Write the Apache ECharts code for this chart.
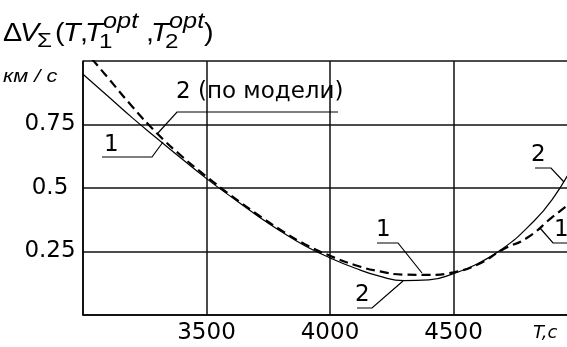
<!DOCTYPE html>
<html><head><meta charset="utf-8">
<script src="https://cdn.jsdelivr.net/npm/echarts@6/dist/echarts.min.js"></script>
<style>html,body{margin:0;padding:0;background:#fff}#c{width:567px;height:347px}</style>
</head><body><div id="c"></div>
<script>
// Data
const temps = [3000,3100,3200,3300,3400,3500,3600,3700,3800,3900,4000,4100,4200,4300,4400,4500,4600,4700,4800,4900,5000];
const curveSolid = [0.948,0.862,0.776,0.695,0.615,0.537,0.465,0.395,0.330,0.272,0.225,0.185,0.153,0.135,0.138,0.163,0.203,0.262,0.345,0.455,0.62];
const curveDashed = [1.05,0.935,0.82,0.715,0.625,0.545,0.47,0.40,0.335,0.278,0.233,0.197,0.172,0.159,0.158,0.168,0.20,0.258,0.305,0.385,0.46];
const xTickLabels = ['3500','4000','4500'];
const yTickLabels = ['0.25','0.5','0.75'];

const FONT = '"DejaVu Sans", sans-serif';
const TFONT = '"Liberation Sans", Arial, sans-serif';
const chart = echarts.init(document.getElementById('c'), null, {renderer: 'canvas'});

function txt(t, x, y, size, italic, family, sx) {
  return {type: 'text', x: x, y: y, z: 100, scaleX: sx || 1,
    style: {text: t, font: (italic ? 'italic ' : '') + size + 'px ' + (family || FONT), fill: '#000',
      align: 'left', verticalAlign: 'middle', textAlign: 'left', textVerticalAlign: 'middle'}};
}
function tt(t, x, y, size, italic) { return txt(t, x, y, size, italic, TFONT, 1.15); }
function pl(points) {
  return {type: 'polyline', z: 100, shape: {points: points}, style: {stroke: '#000', lineWidth: 1.2, fill: null}};
}

const graphics = [
  // title
  tt('Δ', 3, 34, 25, false),
  tt('V', 20, 34, 25, true),
  tt('Σ', 37, 41, 21, false),
  tt('(', 55, 34, 25, false),
  tt('T', 63, 34, 25, true),
  tt(',', 80, 34, 25, false),
  tt('T', 85, 34, 25, true),
  tt('1', 99, 42, 21, false),
  tt('opt', 103, 22, 22, true),
  tt(',', 146, 34, 25, false),
  tt('T', 151, 34, 25, true),
  tt('2', 165, 42, 21, false),
  tt('opt', 169, 22, 22, true),
  tt(')', 204, 34, 25, false),
  // unit
  tt('км / с', 3, 77, 19, true),
  // x axis name (cut by the frame)
  txt('T,с', 533, 333, 18, true),
  // curve annotations
  txt('2 (по модели)', 176, 92, 23, false),
  pl([[338,112],[177,112],[158,133]]),
  txt('1', 104, 145, 23, false),
  pl([[102,157],[152,157],[163,142]]),
  txt('1', 376, 230, 23, false),
  pl([[377,243],[398,243],[422,273]]),
  txt('2', 355, 295, 23, false),
  pl([[357,308],[372,308],[403,281]]),
  txt('2', 531, 155, 23, false),
  pl([[535,168],[551,168],[564,182]]),
  txt('1', 554, 230, 23, false),
  pl([[567,243],[553,243],[540,228]])
];

chart.setOption({
  animation: false,
  backgroundColor: '#fff',
  grid: {left: 83, top: 61, width: 494, height: 254, containLabel: false, outerBoundsMode: 'none'},
  xAxis: {
    type: 'value', min: 3000, max: 5000, interval: 500,
    axisLine: {show: true, lineStyle: {color: '#000', width: 1.5}},
    axisTick: {show: false},
    axisLabel: {
      margin: 7, fontFamily: FONT, fontSize: 23, lineHeight: 23, color: '#000',
      formatter: v => xTickLabels.includes(String(v)) ? String(v) : ''
    },
    splitLine: {show: true, lineStyle: {color: '#111', width: 1.5}}
  },
  yAxis: {
    type: 'value', min: 0, max: 1, interval: 0.25,
    axisLine: {show: true, lineStyle: {color: '#000', width: 1.5}},
    axisTick: {show: false},
    axisLabel: {
      margin: 33, align: 'center', padding: [5, 0, 0, 0],
      fontFamily: FONT, fontSize: 23, color: '#000',
      formatter: v => yTickLabels.includes(String(v)) ? String(v) : ''
    },
    splitLine: {show: true, lineStyle: {color: '#111', width: 1.5}}
  },
  series: [
    {
      name: '2', type: 'line', smooth: true, symbol: 'none', clip: true,
      data: temps.map((t, i) => [t, curveSolid[i]]),
      lineStyle: {color: '#000', width: 1.2, type: 'solid'}
    },
    {
      name: '1', type: 'line', smooth: true, symbol: 'none', clip: true,
      data: temps.map((t, i) => [t, curveDashed[i]]),
      lineStyle: {color: '#000', width: 2.2, type: [9, 5]}
    }
  ],
  graphic: graphics
});
</script>
</body></html>
